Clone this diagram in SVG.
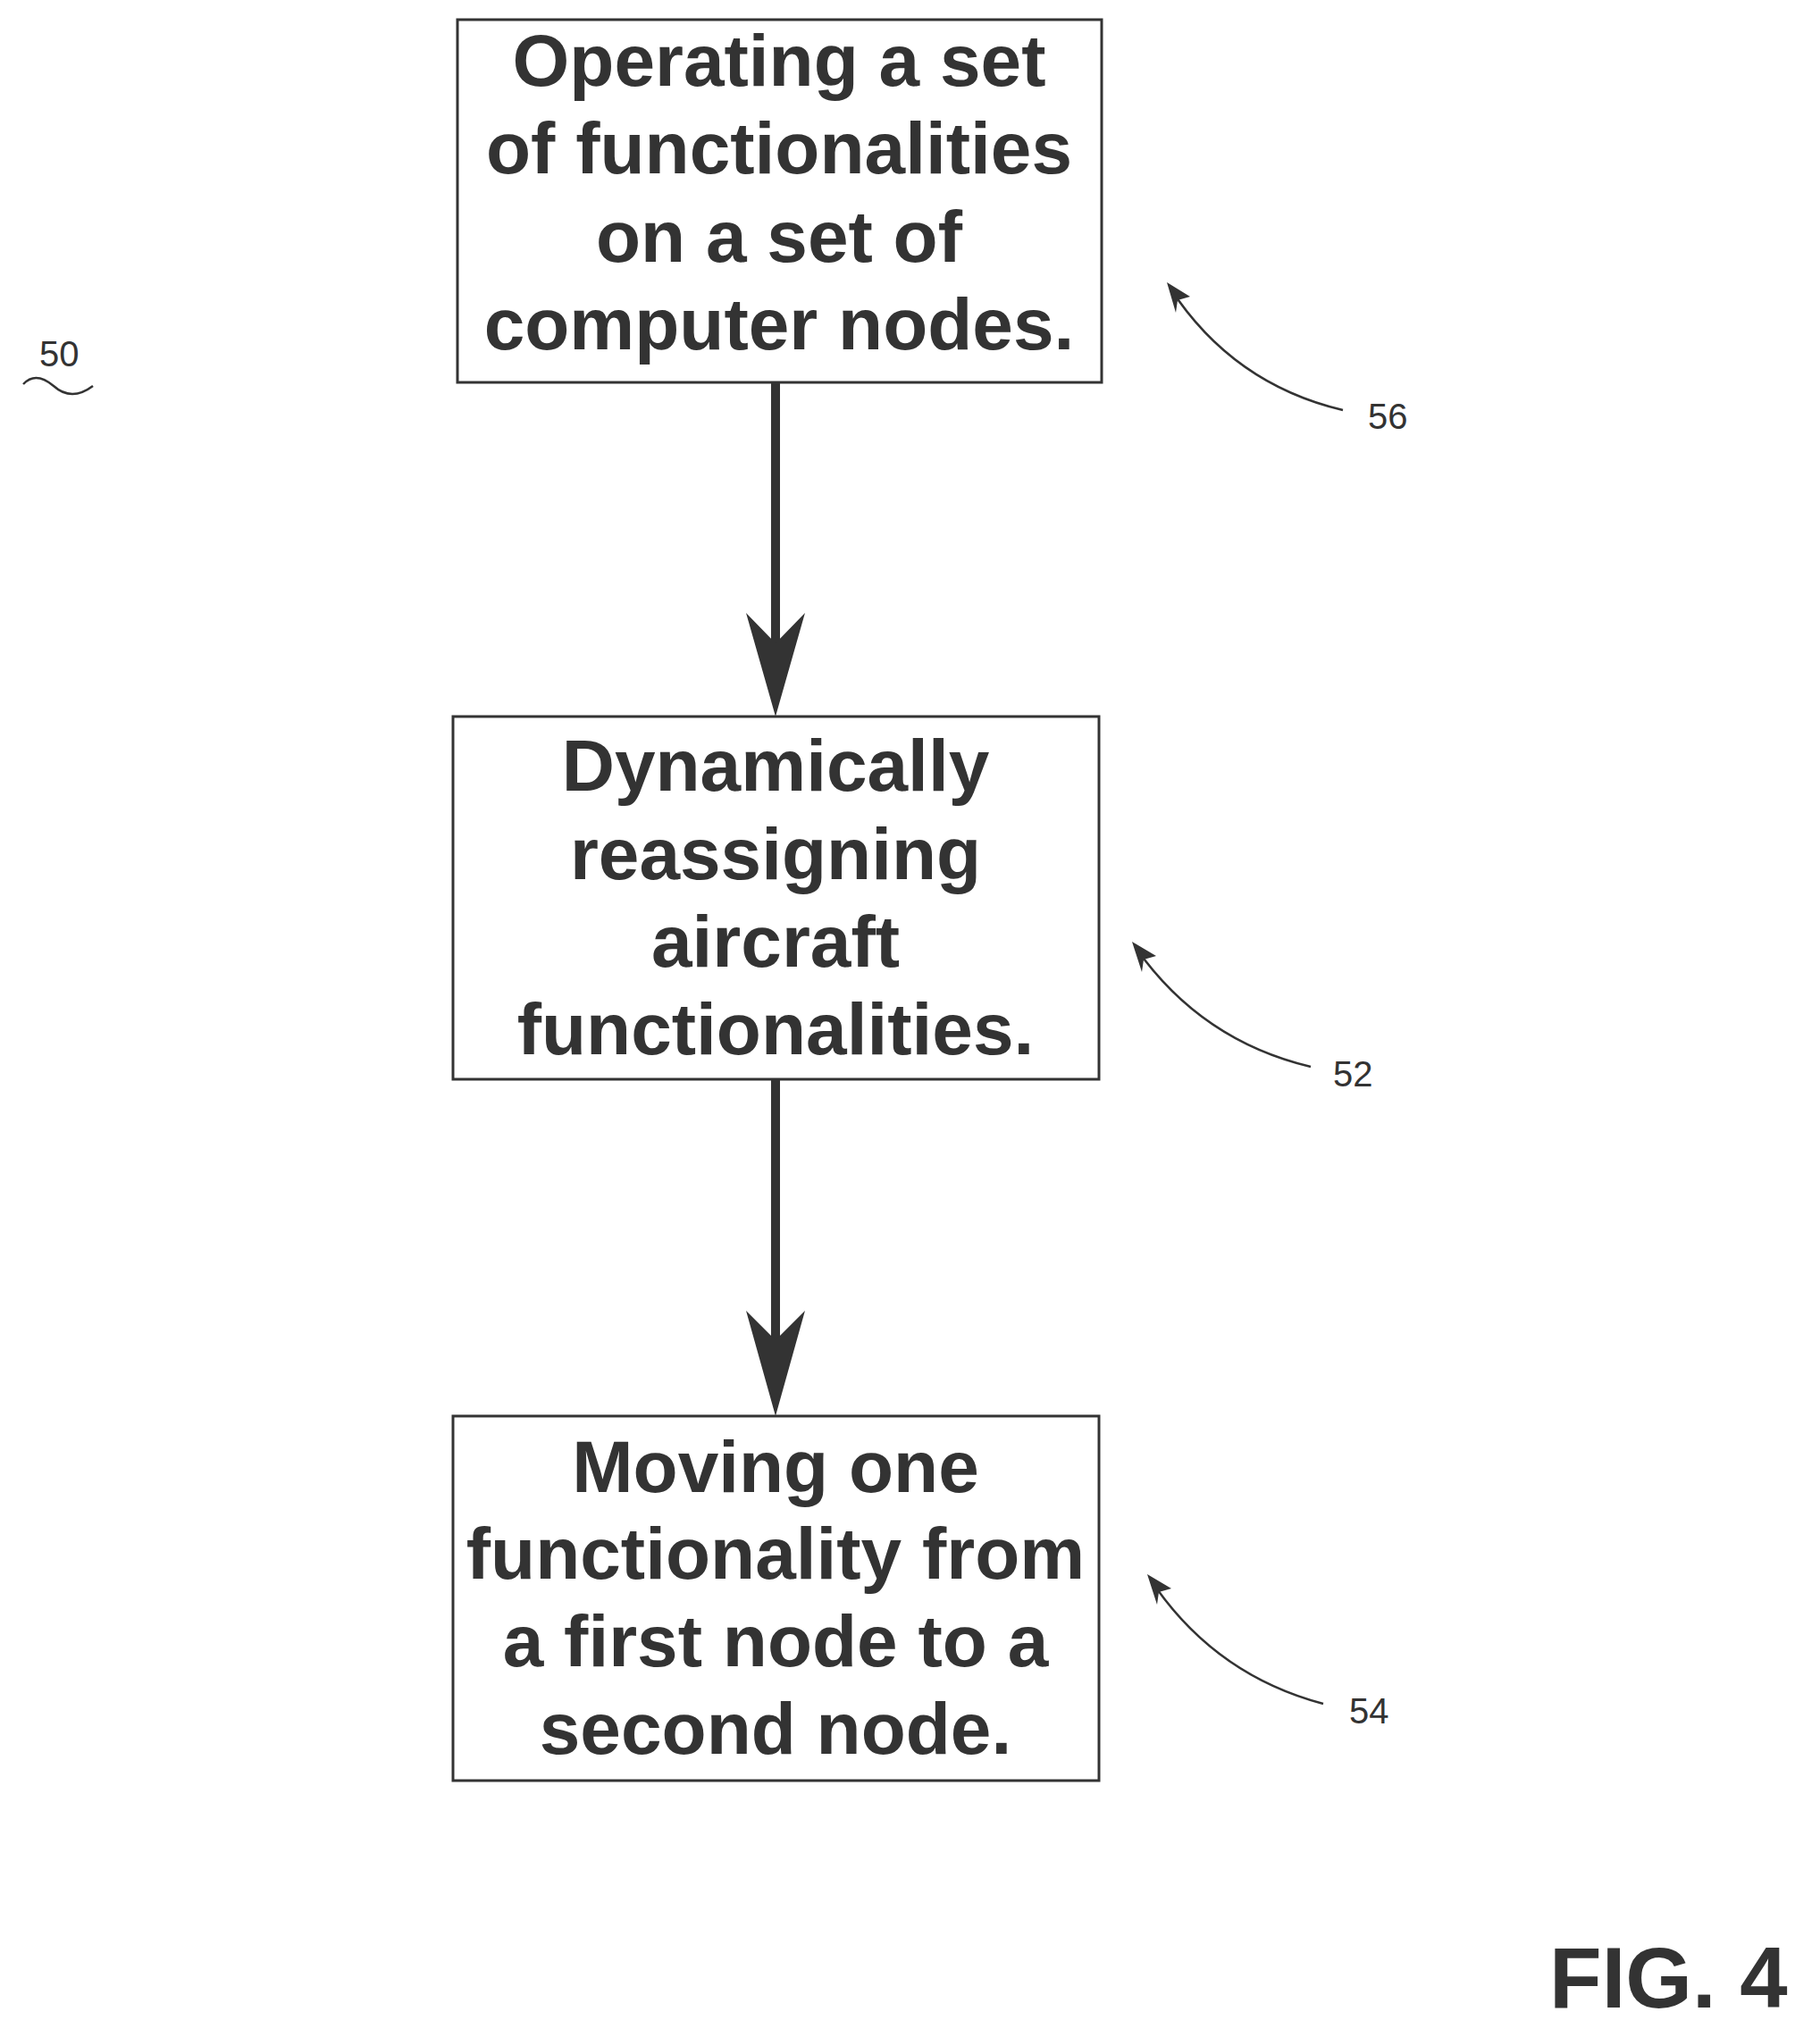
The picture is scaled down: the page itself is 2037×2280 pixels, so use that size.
<svg xmlns="http://www.w3.org/2000/svg" width="2037" height="2280" viewBox="0 0 2037 2280">
<style>
.box{fill:#fff;stroke:#333;stroke-width:3}
.t{font-family:"Liberation Sans",Arial,sans-serif;font-weight:bold;font-size:82px;fill:#333;text-anchor:middle}
.lbl{font-family:"Liberation Sans",Arial,sans-serif;font-size:40px;fill:#333}
.lead{fill:none;stroke:#333;stroke-width:2.5}
.conn{stroke:#333;stroke-width:10}
</style>
<defs>
<marker id="ah" markerWidth="10" markerHeight="10" refX="5" refY="5" orient="auto" markerUnits="userSpaceOnUse" viewBox="0 0 10 10"><path d="M0,0 L10,5 L0,10 L3,5 Z" fill="#333"/></marker>
</defs>
<rect width="2037" height="2280" fill="#fff"/>
<g id="connectors">
<line class="conn" x1="868" y1="428" x2="868" y2="720"/>
<path d="M835,686 L868,720 L901,686 L868,802 Z" fill="#333"/>
<line class="conn" x1="868" y1="1208" x2="868" y2="1500"/>
<path d="M835,1467 L868,1500 L901,1467 L868,1585 Z" fill="#333"/>
</g>
<g id="node56">
<rect class="box" x="512" y="22" width="721" height="406"/>
<text class="t" x="872" y="96">Operating a set</text>
<text class="t" x="872" y="194">of functionalities</text>
<text class="t" x="872" y="293">on a set of</text>
<text class="t" x="872" y="391">computer nodes.</text>
</g>
<g id="node52">
<rect class="box" x="507" y="802" width="723" height="406"/>
<text class="t" x="868" y="885">Dynamically</text>
<text class="t" x="868" y="984">reassigning</text>
<text class="t" x="868" y="1082">aircraft</text>
<text class="t" x="868" y="1180">functionalities.</text>
</g>
<g id="node54">
<rect class="box" x="507" y="1585" width="723" height="408"/>
<text class="t" x="868" y="1670">Moving one</text>
<text class="t" x="868" y="1767">functionality from</text>
<text class="t" x="868" y="1865">a first node to a</text>
<text class="t" x="868" y="1963">second node.</text>
</g>
<g id="labels">
<text class="lbl" x="1531" y="480">56</text>
<path class="lead" d="M1503,459 Q1380,430 1310,323"/>
<path d="M1306,316 L1332,332 L1318,336 L1316,350 Z" fill="#333"/>
<text class="lbl" x="1492" y="1216">52</text>
<path class="lead" d="M1467,1194 Q1345,1165 1272,1062"/>
<path d="M1267,1054 L1294,1070 L1280,1074 L1278,1088 Z" fill="#333"/>
<text class="lbl" x="1510" y="1929">54</text>
<path class="lead" d="M1481,1907 Q1360,1875 1289,1770"/>
<path d="M1284,1762 L1311,1778 L1297,1782 L1295,1796 Z" fill="#333"/>
<text class="lbl" x="44" y="410">50</text>
<path class="lead" d="M26,430 Q40,415 60,432 Q80,450 104,432"/>
<text x="1734" y="2247" style="font-family:'Liberation Sans',Arial,sans-serif;font-weight:bold;font-size:96px;fill:#333">FIG. 4</text>
</g>
</svg>
